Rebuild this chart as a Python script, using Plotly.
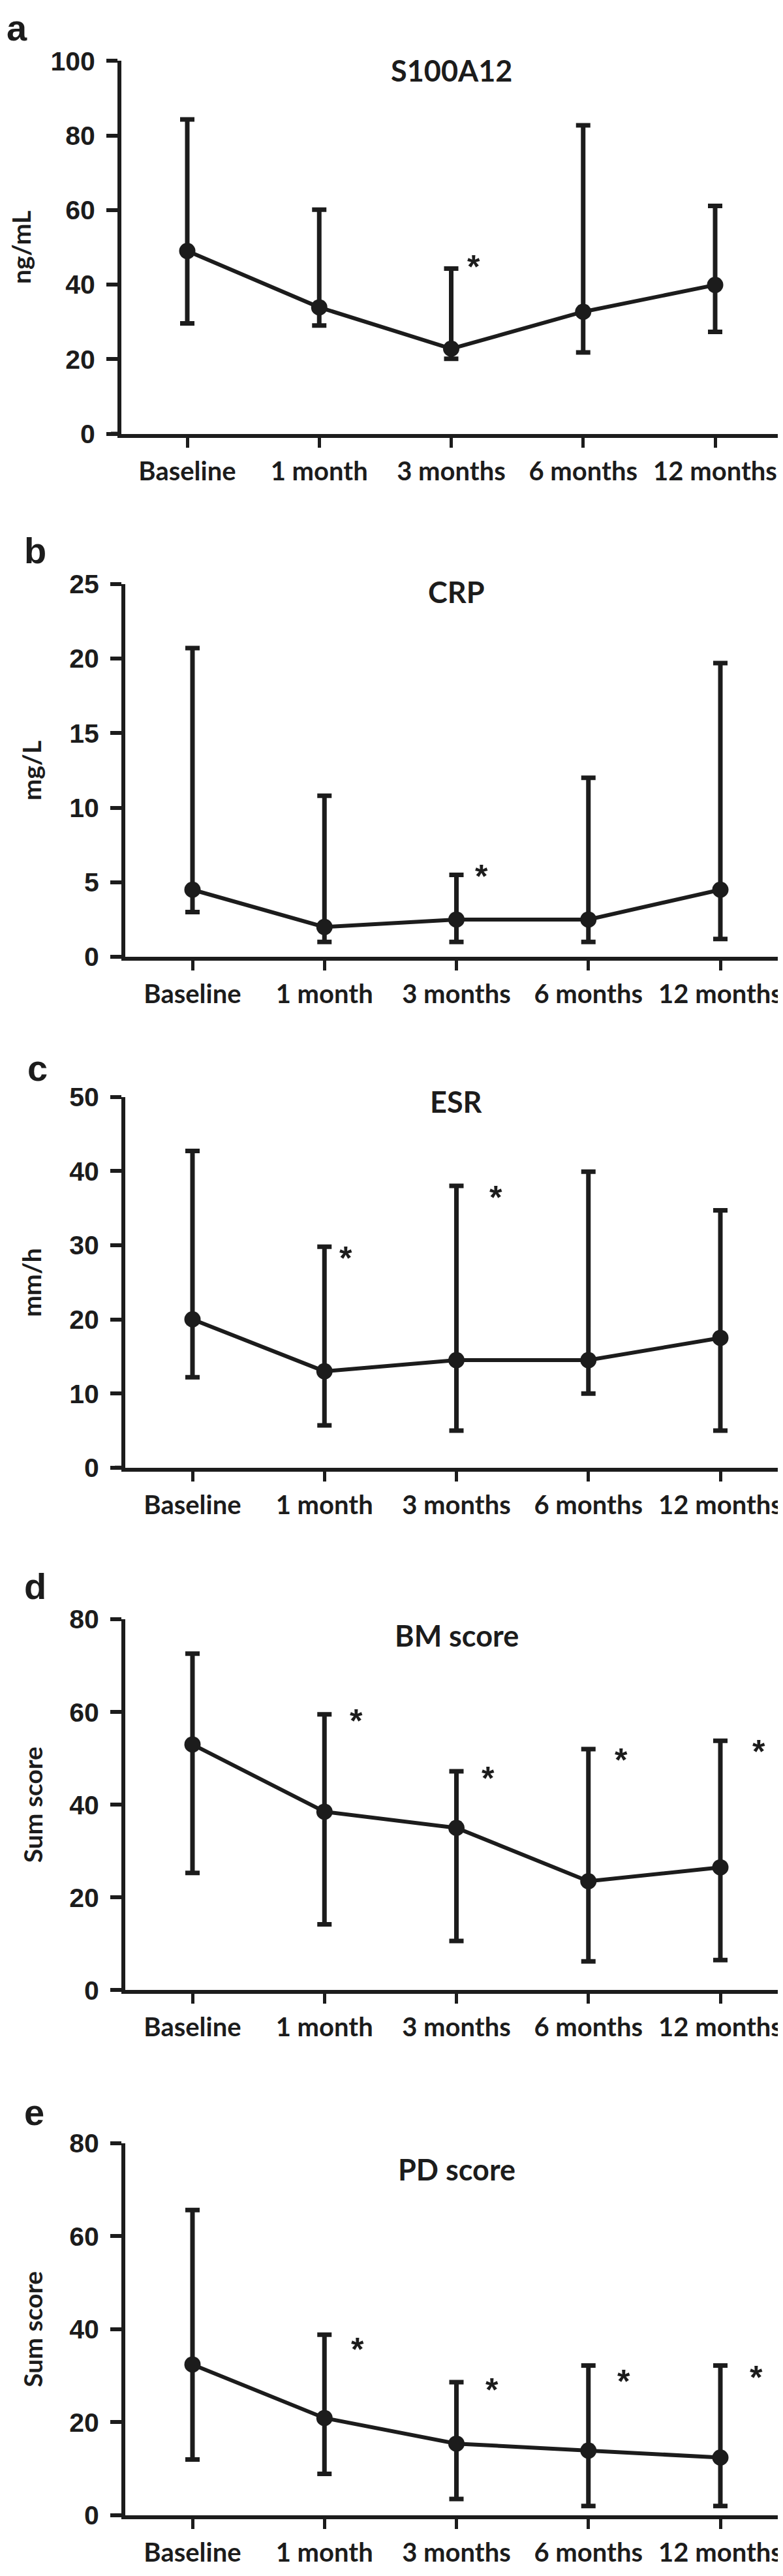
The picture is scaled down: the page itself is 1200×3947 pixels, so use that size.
import plotly.graph_objects as go

W, H = 1200, 3947
OFF = 8  # the page body adds an 8 px margin, so positions are shifted back by it

timepoints = ["Baseline", "1 month", "3 months", "6 months", "12 months"]

# medians with lower / upper bar ends
s100_median = [49.0, 33.9, 22.8, 32.7, 39.9]
s100_upper = [84.3, 60.1, 44.3, 82.7, 61.1]
s100_lower = [29.6, 29.0, 20.1, 21.8, 27.3]
s100_stars = [(2.17, 46.8)]

crp_median = [4.5, 2.0, 2.5, 2.5, 4.5]
crp_upper = [20.7, 10.8, 5.5, 12.0, 19.7]
crp_lower = [3.0, 1.0, 1.0, 1.0, 1.2]
crp_stars = [(2.19, 5.9)]

esr_median = [20.0, 13.0, 14.5, 14.5, 17.5]
esr_upper = [42.7, 29.8, 38.0, 39.9, 34.7]
esr_lower = [12.2, 5.7, 5.0, 10.0, 5.0]
esr_stars = [(1.16, 29.3), (2.3, 37.5)]

bm_median = [53.0, 38.5, 35.0, 23.5, 26.5]
bm_upper = [72.6, 59.5, 47.2, 52.0, 53.8]
bm_lower = [25.3, 14.2, 10.6, 6.2, 6.5]
bm_stars = [(1.24, 59.7), (2.24, 47.4), (3.25, 51.3), (4.29, 53.1)]

pd_median = [32.4, 20.9, 15.4, 13.9, 12.4]
pd_upper = [65.6, 38.8, 28.6, 32.2, 32.2]
pd_lower = [12.0, 8.9, 3.5, 2.0, 2.0]
pd_stars = [(1.25, 37.3), (2.27, 28.6), (3.27, 30.5), (4.27, 31.3)]

panels = [
    dict(letter="a", title="S100A12", unit="ng/mL", ymax=100, dtick=20,
         med=s100_median, up=s100_upper, lo=s100_lower, stars=s100_stars),
    dict(letter="b", title="CRP", unit="mg/L", ymax=25, dtick=5,
         med=crp_median, up=crp_upper, lo=crp_lower, stars=crp_stars),
    dict(letter="c", title="ESR", unit="mm/h", ymax=50, dtick=10,
         med=esr_median, up=esr_upper, lo=esr_lower, stars=esr_stars),
    dict(letter="d", title="BM score", unit="Sum score", ymax=80, dtick=20,
         med=bm_median, up=bm_upper, lo=bm_lower, stars=bm_stars),
    dict(letter="e", title="PD score", unit="Sum score", ymax=80, dtick=20,
         med=pd_median, up=pd_upper, lo=pd_lower, stars=pd_stars),
]

# page pixel layout: plot top/bottom, y-axis x, first x tick, letter x/y, title y, unit x
geom = [
    dict(top=71, bot=649, ax=186, t0=287, lx=8, ly=20, ty=86, ux=32),
    dict(top=882, bot=1460, ax=192, t0=295, lx=35, ly=830, ty=894, ux=48),
    dict(top=1677, bot=2252, ax=192, t0=295, lx=40, ly=1632, ty=1685, ux=48),
    dict(top=2487, bot=3062, ax=192, t0=295, lx=35, ly=2436, ty=2512, ux=50),
    dict(top=3299, bot=3876, ax=192, t0=295, lx=35, ly=3251, ty=3340, ux=50),
]
STEP = 202.25

INK = "#1c1c1c"
num_font = dict(family="Liberation Sans", size=41, color=INK, weight="bold")
lbl_font = dict(family="Lato", size=40, color=INK, weight="bold")


def px_x(v):
    return (v - OFF) / W


def px_y(v):
    return 1 - (v - OFF) / H


fig = go.Figure()
annotations = []
shapes = []

for i, (p, g) in enumerate(zip(panels, geom)):
    n = "" if i == 0 else str(i + 1)
    fig.add_trace(go.Scatter(
        x=list(range(len(timepoints))), y=p["med"],
        mode="lines+markers",
        line=dict(color=INK, width=6),
        marker=dict(color=INK, size=25),
        error_y=dict(type="data", symmetric=False,
                     array=[u - m for u, m in zip(p["up"], p["med"])],
                     arrayminus=[m - l for m, l in zip(p["med"], p["lo"])],
                     color=INK, thickness=7, width=11),
        xaxis="x" + n, yaxis="y" + n, showlegend=False, hoverinfo="skip",
    ))
    fig.layout["xaxis" + n] = dict(
        domain=[px_x(g["ax"]), 1], anchor="y" + n,
        range=[(g["ax"] - g["t0"]) / STEP, (W + OFF - g["t0"]) / STEP],
        tickmode="array", tickvals=list(range(5)), ticktext=timepoints,
        showline=True, linewidth=6, linecolor=INK, ticks="outside",
        ticklen=15, tickwidth=5, tickcolor=INK, showgrid=False, zeroline=False,
        tickfont=lbl_font, ticklabelstandoff=2, ticklabeloverflow="allow",
    )
    fig.layout["yaxis" + n] = dict(
        domain=[px_y(g["bot"]), px_y(g["top"])], anchor="x" + n,
        range=[0, p["ymax"]], dtick=p["dtick"], tick0=0,
        showline=True, linewidth=6, linecolor=INK, ticks="outside",
        ticklen=17, tickwidth=6, tickcolor=INK, showgrid=False, zeroline=False,
        tickfont=num_font, ticklabelstandoff=9,
    )
    # x axis line runs a little past the y axis, as in the original
    shapes.append(dict(type="line", xref="paper", yref="y" + n,
                       x0=px_x(g["ax"] - 16), x1=px_x(g["ax"]), y0=0, y1=0,
                       line=dict(color=INK, width=6)))
    annotations.append(dict(text=p["letter"], x=px_x(g["lx"]), y=px_y(g["ly"]),
                            xref="paper", yref="paper", xanchor="left", yanchor="middle",
                            showarrow=False,
                            font=dict(family="Liberation Sans", size=56, color=INK, weight="bold")))
    annotations.append(dict(text=p["title"], x=2, y=px_y(g["ty"]),
                            xref="x" + n, yref="paper", xanchor="center", yanchor="middle",
                            showarrow=False,
                            font=dict(family="Lato", size=45, color=INK, weight="bold")))
    annotations.append(dict(text=p["unit"], x=px_x(g["ux"]), y=px_y((g["top"] + g["bot"]) / 2),
                            xref="paper", yref="paper", xanchor="center", yanchor="middle",
                            textangle=-90, showarrow=False,
                            font=dict(family="Lato", size=39, color=INK, weight="bold")))
    for sx, sy in p["stars"]:
        annotations.append(dict(text="*", x=sx, y=sy, xref="x" + n, yref="y" + n,
                                xanchor="center", yanchor="middle", yshift=-12,
                                showarrow=False,
                                font=dict(family="Liberation Sans", size=50, color=INK, weight="bold")))

fig.update_layout(
    width=W, height=H, autosize=False,
    margin=dict(l=0, r=0, t=0, b=0),
    paper_bgcolor="white", plot_bgcolor="white",
    annotations=annotations, shapes=shapes,
)

fig.write_html("out.html")
